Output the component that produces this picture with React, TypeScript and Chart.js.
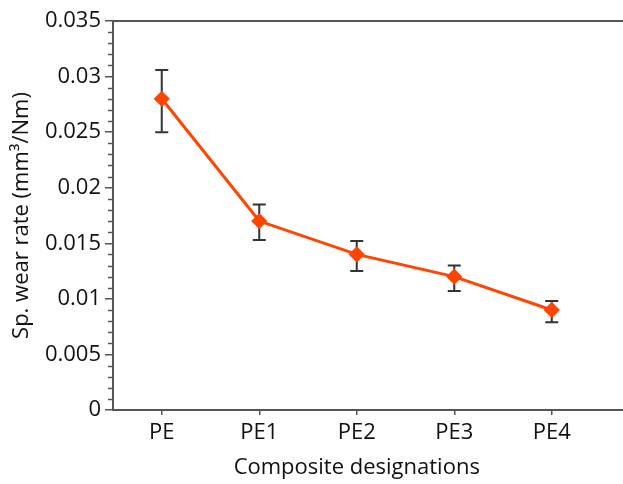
import React, { useEffect, useRef } from "react";
import { Chart, registerables } from "chart.js";

Chart.register(...registerables);

const categories = ["PE", "PE1", "PE2", "PE3", "PE4"];
const wearRate = [0.028, 0.017, 0.014, 0.012, 0.009];
const errUpper = [0.0306, 0.0185, 0.0152, 0.0130, 0.0098];
const errLower = [0.0250, 0.0153, 0.0125, 0.0107, 0.0079];
const yMajorTicks = [0, 0.005, 0.01, 0.015, 0.02, 0.025, 0.03, 0.035];
const yMinorStep = 0.001;

const FONT = "'Open Sans', 'DejaVu Sans', sans-serif";
const AXIS_COLOR = "#555555";
const TEXT_COLOR = "#111111";
const FONT_SIZE = 22;

const extrasPlugin = {
  id: "extras",
  beforeDatasetsDraw(chart: any) {
    const { ctx } = chart;
    const x = chart.scales.x;
    const y = chart.scales.y;
    ctx.save();
    ctx.strokeStyle = "#333333";
    ctx.lineWidth = 2;
    for (let i = 0; i < categories.length; i++) {
      const px = x.getPixelForValue(i);
      const top = y.getPixelForValue(errUpper[i]);
      const bot = y.getPixelForValue(errLower[i]);
      ctx.beginPath();
      ctx.moveTo(px, top);
      ctx.lineTo(px, bot);
      ctx.moveTo(px - 6.5, top);
      ctx.lineTo(px + 6.5, top);
      ctx.moveTo(px - 6.5, bot);
      ctx.lineTo(px + 6.5, bot);
      ctx.stroke();
    }
    ctx.restore();
  },
  afterDraw(chart: any) {
    const { ctx, chartArea, width } = chart;
    const y = chart.scales.y;
    ctx.save();
    ctx.strokeStyle = AXIS_COLOR;
    ctx.lineWidth = 1.5;
    const maxV = yMajorTicks[yMajorTicks.length - 1];
    const n = Math.round(maxV / yMinorStep);
    for (let k = 0; k <= n; k++) {
      if (k % 5 === 0) continue;
      const py = Math.round(y.getPixelForValue(k * yMinorStep)) + 0.5;
      ctx.beginPath();
      ctx.moveTo(chartArea.left - 5, py);
      ctx.lineTo(chartArea.left, py);
      ctx.stroke();
    }
    ctx.lineWidth = 2;
    ctx.beginPath();
    ctx.moveTo(chartArea.left - 1, chartArea.top);
    ctx.lineTo(width, chartArea.top);
    ctx.moveTo(chartArea.left - 1, chartArea.bottom);
    ctx.lineTo(width, chartArea.bottom);
    ctx.stroke();
    ctx.restore();
  },
};

export default function App() {
  const ref = useRef<HTMLCanvasElement>(null);
  useEffect(() => {
    document.body.style.margin = "0";
    const canvas = ref.current!;
    const chart = new Chart(canvas, {
      type: "line",
      data: {
        labels: categories,
        datasets: [
          {
            data: wearRate,
            borderColor: "#FF4500",
            backgroundColor: "#FF4500",
            borderWidth: 3,
            pointStyle: "rectRot",
            pointRadius: 6,
            pointHoverRadius: 6,
            tension: 0,
          },
        ],
      },
      options: {
        responsive: false,
        animation: false,
        devicePixelRatio: 1,
        layout: { padding: { top: 21, right: 22.5, left: 0, bottom: 0 } },
        plugins: { legend: { display: false }, tooltip: { enabled: false } },
        scales: {
          x: {
            type: "category",
            offset: true,
            grid: {
              display: true,
              drawOnChartArea: false,
              drawTicks: true,
              tickLength: 5,
              offset: false,
              color: AXIS_COLOR,
              lineWidth: 1.5,
            },
            border: { display: true, color: AXIS_COLOR, width: 2 },
            ticks: {
              color: TEXT_COLOR,
              font: { family: FONT, size: FONT_SIZE },
              padding: 5,
              maxRotation: 0,
            },
            title: {
              display: true,
              text: "Composite designations",
              color: TEXT_COLOR,
              font: { family: FONT, size: FONT_SIZE },
              padding: { top: 4, bottom: 3 },
            },
            afterFit: (s: any) => {
              s.height = 74;
            },
          },
          y: {
            min: 0,
            max: 0.035,
            afterBuildTicks: (s: any) => {
              s.ticks = yMajorTicks.map((v) => ({ value: v }));
            },
            grid: {
              display: true,
              drawOnChartArea: false,
              drawTicks: true,
              tickLength: 8,
              color: AXIS_COLOR,
              lineWidth: 1.5,
            },
            border: { display: true, color: AXIS_COLOR, width: 2 },
            ticks: {
              color: TEXT_COLOR,
              font: { family: FONT, size: FONT_SIZE },
              padding: 4,
              callback: (v: any) => String(parseFloat(Number(v).toFixed(3))),
            },
            title: {
              display: true,
              text: "Sp. wear rate (mm³/Nm)",
              color: TEXT_COLOR,
              font: { family: FONT, size: FONT_SIZE },
              padding: { top: 9, bottom: 4 },
            },
            afterFit: (s: any) => {
              s.width = 113;
            },
          },
        },
      },
      plugins: [extrasPlugin],
    });
    return () => chart.destroy();
  }, []);
  return (
    <div style={{ width: 623, height: 484, overflow: "hidden", background: "#fff" }}>
      <canvas ref={ref} width={623} height={484} style={{ display: "block" }} />
    </div>
  );
}
